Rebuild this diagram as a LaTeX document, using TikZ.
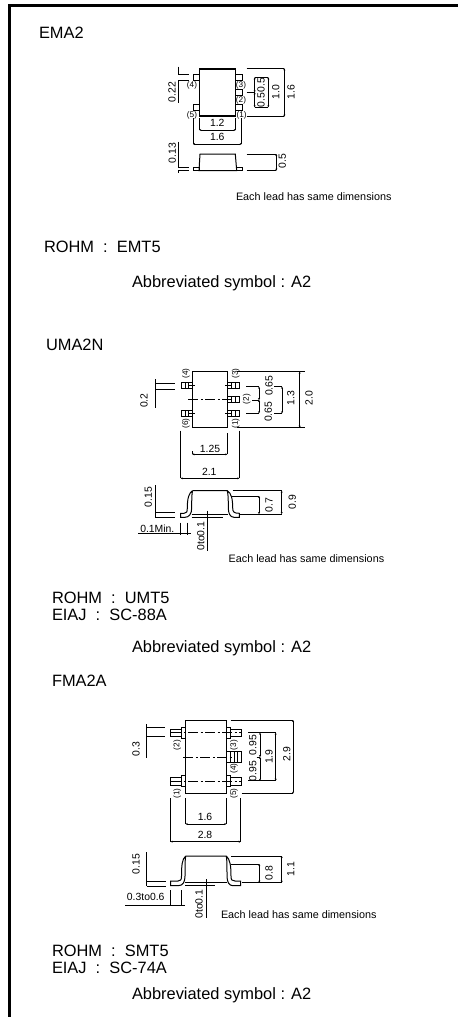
\documentclass[tikz,border=0pt]{standalone}
\usepackage{fontspec}
\setmainfont{Liberation Sans}
\usetikzlibrary{arrows.meta}
\begin{document}
\begin{tikzpicture}[x=1pt, y=-1pt]
      \tikzstyle{every node}=[inner sep=0pt, outer sep=0pt]
      \tikzstyle{title}=[anchor=west, font=\fontsize{16.4}{17}\selectfont]
      \tikzstyle{small}=[font=\fontsize{10.4}{11}\selectfont]
      \tikzstyle{note}=[anchor=west, font=\fontsize{10.8}{11}\selectfont]
      \tikzstyle{pin}=[font=\fontsize{8.2}{9}\selectfont]
      \tikzstyle{dimline}=[line width=0.7pt, {Stealth[length=2pt,width=2pt]}-{Stealth[length=2pt,width=2pt]}]
      \tikzstyle{thin line}=[line width=0.7pt]
      \tikzstyle{part}=[line width=1pt]
      \tikzstyle{center}=[line width=0.8pt, dash pattern=on 10pt off 2.5pt on 2pt off 2.5pt]
      \useasboundingbox (0, 0) rectangle (458, 1017);
      \draw [line width=3pt] (9, 1017) -- (9, 5.3) -- (458, 5.3);

      % EMA2
      \path (39, 33) node [title] (ematitle) {EMA2};
      \draw [part, line width=1.1pt] (199.3, 68.3) rectangle (235.7, 116.7);
      \draw [line width=2pt] (199.3, 69) -- (235.7, 69);
      \draw [line width=2pt] (199.3, 116) -- (235.7, 116);
      \foreach \y in {74, 104.7}
      {
        \draw [part] (193, \y) rectangle (199.3, \y+6);
      }
      \foreach \y in {74, 89.3, 104.7}
      {
        \draw [part] (235.7, \y) rectangle (242, \y+6);
      }
      \path (192, 85) node [pin] (emapf) {(4)};
      \path (241, 85) node [pin] (emapt) {(3)};
      \path (241, 100) node [pin] (emaps) {(2)};
      \path (192, 115.7) node [pin] (emapv) {(5)};
      \path (241.7, 115.7) node [pin] (emapo) {(1)};

      \draw [thin line]
        (246.7, 68.3) -- (284.3, 68.3)
        (246.7, 116.7) -- (284.3, 116.7)
        (254.7, 77.3) -- (268.3, 77.3)
        (254.7, 107.3) -- (268.3, 107.3)
        (246.7, 92.3) -- (254.7, 92.3)
        (199.3, 118) -- (199.3, 130)
        (235.7, 118) -- (235.7, 130)
        (193, 118) -- (193, 144)
        (241.7, 118) -- (241.7, 144)
        (178.3, 74) -- (188.7, 74)
        (178.3, 80.7) -- (188.7, 80.7)
        (178.3, 66.7) -- (178.3, 74)
        (178.3, 80.7) -- (178.3, 102.7);
      \draw [dimline] (284.3, 68.3) -- (284.3, 116.7);
      \draw [dimline] (268.3, 77.3) -- (268.3, 107.3);
      \draw [dimline] (254.7, 77.3) -- (254.7, 92.3);
      \draw [dimline] (254.7, 92.3) -- (254.7, 107.3);
      \draw [dimline] (199.3, 130) -- (235.7, 130);
      \draw [dimline] (193, 144) -- (241.7, 144);
      \path (291, 92) node [small, rotate=90] (emalen) {1.6};
      \path (275.7, 92.3) node [small, rotate=90] (emapitch) {1.0};
      \path (261, 85) node [small, rotate=90] (emapa) {0.5};
      \path (261, 100) node [small, rotate=90] (emapb) {0.5};
      \path (217.3, 123) node [small] (emawid) {1.2};
      \path (217.3, 137.3) node [small] (emaspan) {1.6};
      \path (172, 92.3) node [small, rotate=90] (emalead) {0.22};

      \draw [part] (199, 170.7) -- (200, 154) -- (235.3, 154) -- (236.7, 170.7) -- cycle;
      \draw [part] (193, 167.3) rectangle (199.2, 170.7);
      \draw [part] (236.5, 167.3) rectangle (242, 170.7);
      \draw [thin line]
        (178.3, 141.7) -- (178.3, 167.3)
        (178.3, 170.7) -- (178.3, 173.3)
        (178.3, 167.3) -- (188.7, 167.3)
        (178.3, 170.7) -- (188.7, 170.7)
        (246.7, 154) -- (276.3, 154)
        (246.7, 170.7) -- (276.3, 170.7);
      \draw [dimline] (276.3, 154) -- (276.3, 170.7);
      \path (172.3, 153.3) node [small, rotate=90] (ematk) {0.13};
      \path (282.3, 161) node [small, rotate=90] (emaht) {0.5};
      \path (236, 197) node [note] (emanote) {Each lead has same dimensions};
      \path (44, 247) node [title] (emarohm) {ROHM~~:~~EMT5};
      \path (132, 283) node [title] (emaabbr) {Abbreviated symbol : A2};

      % UMA2N
      \path (46, 345) node [title] (umatitle) {UMA2N};
      \draw [part] (192.5, 371.7) rectangle (227.3, 427.7);
      \foreach \y in {385.3, 413}
      {
        \draw [part] (181, \y-3) rectangle (192.5, \y+3);
        \draw [thin line] (185, \y-3) -- (185, \y+3) (188.3, \y-3) -- (188.3, \y+3);
        \draw [thin line] (188.3, \y) -- (195, \y);
      }
      \foreach \y in {385.3, 399.7, 413}
      {
        \draw [part] (227.3, \y-3) rectangle (239.3, \y+3);
        \draw [thin line] (231.7, \y-3) -- (231.7, \y+3) (235, \y-3) -- (235, \y+3);
        \draw [thin line] (225, \y) -- (231.7, \y);
      }
      \draw [center] (188.3, 399.7) -- (231.7, 399.7);
      \path (186, 373.3) node [pin, rotate=90] (umapf) {(4)};
      \path (235.7, 373.3) node [pin, rotate=90] (umapt) {(3)};
      \path (246.7, 399) node [pin, rotate=90] (umaps) {(2)};
      \path (186, 423.3) node [pin, rotate=90] (umapv) {(6)};
      \path (235.7, 423.3) node [pin, rotate=90] (umapo) {(1)};

      \draw [thin line]
        (155, 379) -- (155, 408.3)
        (155, 383.3) -- (175, 383.3)
        (155, 389) -- (175, 389)
        (237.3, 371.7) -- (305, 371.7)
        (237.3, 427.7) -- (305, 427.7)
        (274, 386.7) -- (282, 386.7)
        (274, 413.3) -- (282, 413.3)
        (246, 386.7) -- (259, 386.7)
        (252, 400) -- (259, 400)
        (246, 413.3) -- (259, 413.3)
        (180.7, 430.7) -- (180.7, 478.3)
        (239.3, 430.7) -- (239.3, 478.3)
        (227.3, 433.3) -- (227.3, 454.3)
        (192.3, 451) -- (192.3, 454.3);
      \draw [dimline] (299.7, 371.7) -- (299.7, 427.7);
      \draw [dimline] (282, 386.7) -- (282, 413.3);
      \draw [dimline] (259, 386.7) -- (259, 400);
      \draw [dimline] (259, 400) -- (259, 413.3);
      \draw [dimline] (192.3, 454.3) -- (227.3, 454.3);
      \draw [dimline] (180.7, 478.3) -- (239.3, 478.3);
      \path (144, 400.7) node [small, rotate=90] (umalead) {0.2};
      \path (309, 398.3) node [small, rotate=90] (umalen) {2.0};
      \path (290.7, 398.3) node [small, rotate=90] (umapitch) {1.3};
      \path (269, 385.7) node [small, rotate=90] (umapa) {0.65};
      \path (268.3, 411.7) node [small, rotate=90] (umapb) {0.65};
      \path (210, 448.7) node [small] (umawid) {1.25};
      \path (209.3, 472) node [small] (umaspan) {2.1};

      \draw [part] (192.5, 490.7) -- (227.3, 490.7)
        .. controls (231, 493) and (232.7, 498) .. (232.7, 508) .. controls (232.7, 512) and (234, 513.3) .. (239.3, 513.3)
        -- (239.3, 517.3) -- (234, 517.3) .. controls (230, 517.3) and (228.3, 513) .. (228.3, 508)
        .. controls (228.3, 500) and (228.3, 495) .. (227.3, 490.7);
      \draw [part] (192.5, 490.7) .. controls (191.7, 495) and (191.7, 500) .. (191.7, 508)
        .. controls (191.7, 514) and (189, 517.3) .. (185, 517.3) -- (180.7, 517.3) -- (180.7, 513.3) -- (184, 513.3)
        .. controls (186.5, 513.3) and (187.3, 512) .. (187.3, 508)
        .. controls (187.3, 498) and (189, 493) .. (192.5, 490.7);
      \draw [part] (191.7, 514.7) -- (228.3, 514.7);
      \draw [thin line]
        (191.7, 517.3) -- (222.7, 517.3)
        (207.7, 510.7) -- (207.7, 550.7)
        (155.7, 485) -- (155.7, 517.3)
        (155, 512.7) -- (175, 512.7)
        (155, 517.3) -- (175, 517.3)
        (138.3, 533.3) -- (191, 533.3)
        (180.7, 522.7) -- (180.7, 535)
        (187.3, 522.7) -- (187.3, 535)
        (231.7, 496) -- (259, 496)
        (240, 514) -- (259, 514)
        (232.7, 490.7) -- (281.7, 490.7)
        (258, 514) -- (281.7, 514);
      \draw [dimline] (259, 496) -- (259, 514);
      \draw [dimline] (281.7, 490.7) -- (281.7, 514);
      \path (148.3, 497.3) node [small, rotate=90] (umatk) {0.15};
      \path (157.3, 528.3) node [small] (umafoot) {0.1Min.};
      \path (200.7, 536) node [small, rotate=90] (umagap) {0to0.1};
      \path (269, 505) node [small, rotate=90] (umahta) {0.7};
      \path (292.3, 502.3) node [small, rotate=90] (umahtb) {0.9};
      \path (228.7, 558.3) node [note] (umanote) {Each lead has same dimensions};
      \path (52, 598) node [title] (umarohm) {ROHM~~:~~UMT5};
      \path (52, 615) node [title] (umaeiaj) {EIAJ~~:~~SC-88A};
      \path (132, 648) node [title] (umaabbr) {Abbreviated symbol : A2};

      % FMA2A
      \path (52, 681) node [title] (fmatitle) {FMA2A};
      \draw [part] (185.7, 720) rectangle (226.3, 793.5);
      \foreach \y in {732.7, 781.3}
      {
        \draw [part] (170.7, \y-3.7) rectangle (181.7, \y+3.7);
        \draw [part] (181.7, \y-5.5) rectangle (185.7, \y+5.5);
        \draw [center] (171, \y) -- (241.7, \y);
      }
      \foreach \y in {732.7, 781.3}
      {
        \draw [part] (226.3, \y-5.5) rectangle (230, \y+5.5);
        \draw [part] (230, \y-3.7) rectangle (241.7, \y+3.7);
      }
      \draw [part] (226.3, 751.5) rectangle (230, 762.7);
      \draw [part] (230, 751.5) rectangle (241, 762.7);
      \draw [thin line] (234, 751.5) -- (234, 762.7) (237.5, 751.5) -- (237.5, 762.7);
      \draw [center] (183.3, 757) -- (234, 757);
      \path (177.3, 745) node [pin, rotate=90] (fmaps) {(2)};
      \path (234, 745) node [pin, rotate=90] (fmapt) {(3)};
      \path (234, 768.3) node [pin, rotate=90] (fmapf) {(4)};
      \path (177.3, 793.3) node [pin, rotate=90] (fmapo) {(1)};
      \path (234, 793.3) node [pin, rotate=90] (fmapv) {(5)};

      \draw [thin line]
        (146.7, 724.3) -- (146.7, 757.7)
        (146.7, 727.7) -- (165, 727.7)
        (146.7, 736.7) -- (165, 736.7)
        (230.7, 720) -- (293, 720)
        (241.7, 793.7) -- (293, 793.7)
        (248.3, 732.7) -- (275.7, 732.7)
        (248.3, 780.7) -- (275.7, 780.7)
        (256.7, 757) -- (260, 757)
        (170.7, 798.3) -- (170.7, 841.7)
        (240.7, 798.3) -- (240.7, 841.7)
        (185.7, 798) -- (185.7, 824)
        (226.3, 798) -- (226.3, 824);
      \draw [dimline] (293, 720) -- (293, 793.7);
      \draw [dimline] (275.7, 732.7) -- (275.7, 780.7);
      \draw [dimline] (260, 732.7) -- (260, 757);
      \draw [dimline] (260, 757) -- (260, 780.7);
      \draw [dimline] (185.7, 824) -- (226.3, 824);
      \draw [dimline] (170.7, 841.7) -- (240.7, 841.7);
      \path (136, 749) node [small, rotate=90] (fmalead) {0.3};
      \path (286.7, 754) node [small, rotate=90] (fmalen) {2.9};
      \path (269, 756.7) node [small, rotate=90] (fmapitch) {1.9};
      \path (252.7, 745) node [small, rotate=90] (fmapa) {0.95};
      \path (252.7, 771) node [small, rotate=90] (fmapb) {0.95};
      \path (205, 816.7) node [small] (fmawid) {1.6};
      \path (205, 835) node [small] (fmaspan) {2.8};

      \draw [part] (185.7, 856) -- (226.3, 856)
        .. controls (230, 859) and (231, 866) .. (231, 876) .. controls (231, 880) and (232, 881) .. (235, 881)
        -- (240.7, 881) -- (240.7, 885.7) -- (233, 885.7) .. controls (229, 885.7) and (227, 882) .. (227, 876)
        .. controls (227, 866) and (227, 860) .. (226.3, 856);
      \draw [part] (185.7, 856) .. controls (185, 860) and (185, 866) .. (185, 876)
        .. controls (185, 882) and (183, 885.7) .. (178, 885.7) -- (170.7, 885.7) -- (170.7, 881) -- (178, 881)
        .. controls (180.5, 881) and (181.5, 880) .. (181.5, 876)
        .. controls (181.5, 866) and (182, 859) .. (185.7, 856);
      \draw [part] (185, 882.7) -- (227, 882.7);
      \draw [thin line]
        (185, 885.7) -- (215, 885.7)
        (206.7, 879.3) -- (206.7, 918.3)
        (146.7, 852.3) -- (146.7, 885.7)
        (146.7, 881) -- (165.7, 881)
        (146.7, 886) -- (165.7, 886)
        (125, 905) -- (185, 905)
        (170.7, 890) -- (170.7, 905)
        (181, 890) -- (181, 905)
        (231, 864) -- (259.3, 864)
        (241.7, 882.7) -- (259.3, 882.7)
        (231, 856) -- (281.7, 856)
        (259, 882.7) -- (281.7, 882.7);
      \draw [dimline] (259.3, 864) -- (259.3, 882.7);
      \draw [dimline] (281.7, 856) -- (281.7, 882.7);
      \path (136, 864) node [small, rotate=90] (fmatk) {0.15};
      \path (145.7, 897.3) node [small] (fmafoot) {0.3to0.6};
      \path (199, 904) node [small, rotate=90] (fmagap) {0to0.1};
      \path (269, 873.3) node [small, rotate=90] (fmahta) {0.8};
      \path (290.7, 869.3) node [small, rotate=90] (fmahtb) {1.1};
      \path (221, 915) node [note] (fmanote) {Each lead has same dimensions};
      \path (52, 950.7) node [title] (fmarohm) {ROHM~~:~~SMT5};
      \path (52, 968) node [title] (fmaeiaj) {EIAJ~~:~~SC-74A};
      \path (132, 995) node [title] (fmaabbr) {Abbreviated symbol : A2};
    \end{tikzpicture}
\end{document}
